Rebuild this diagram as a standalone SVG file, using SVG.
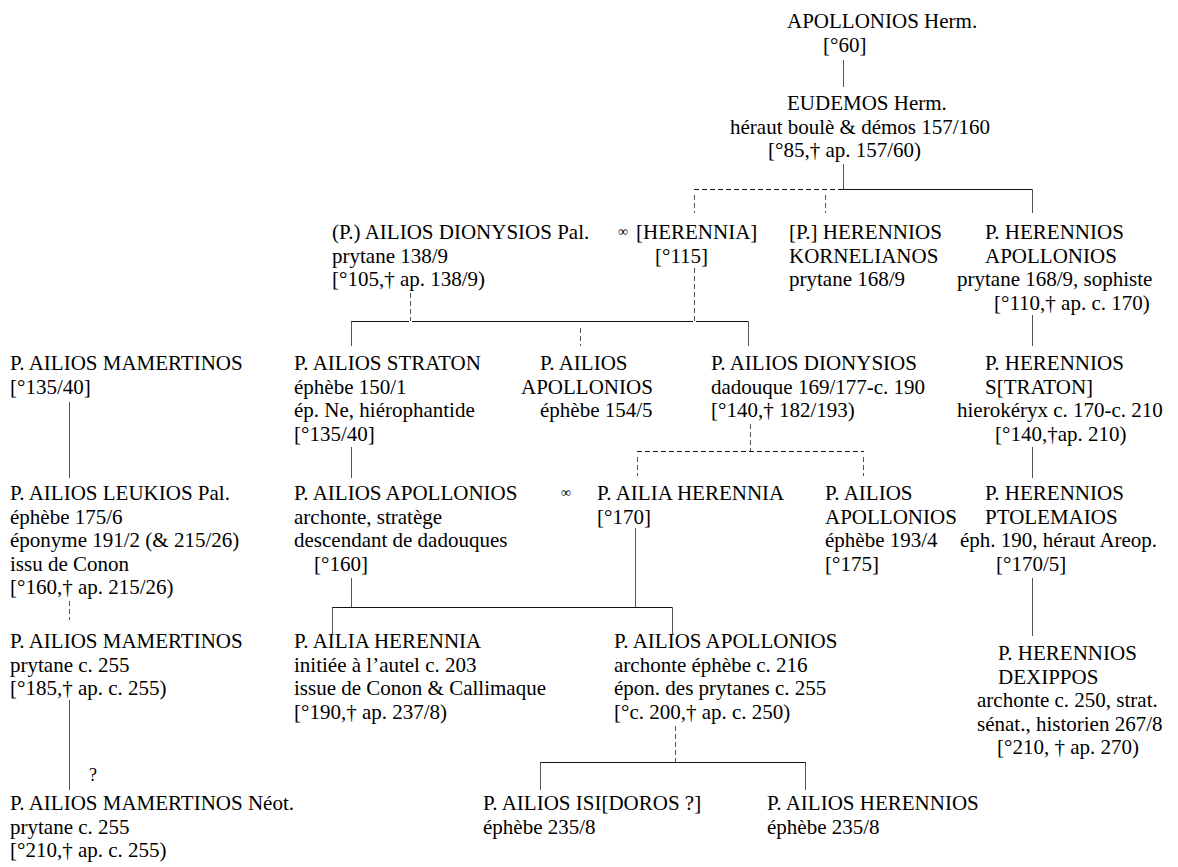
<svg xmlns="http://www.w3.org/2000/svg" width="1178" height="867" viewBox="0 0 1178 867">
<style>
text{font-family:"Liberation Serif","Times New Roman",serif;font-size:21px;fill:#000}
.inf{font-size:14px}
.q{font-size:18px}
line{stroke:#111;stroke-width:1;fill:none}
.v{stroke:#555}
.d{stroke-dasharray:5,3}
</style>
<rect width="1178" height="867" fill="#fff"/>
<g id="connectors">
<line class="v" x1="843.5" y1="60" x2="843.5" y2="87"/>
<line class="v" x1="843.5" y1="164" x2="843.5" y2="189.5"/>
<line class="d" x1="694" y1="189.5" x2="843" y2="189.5"/>
<line x1="843" y1="189.5" x2="1032.5" y2="189.5"/>
<line class="v d" x1="694.5" y1="195" x2="694.5" y2="213"/>
<line class="v d" x1="825.5" y1="195" x2="825.5" y2="213"/>
<line class="v" x1="1032.5" y1="189.5" x2="1032.5" y2="213"/>
<line class="v d" x1="410.5" y1="293" x2="410.5" y2="321"/>
<line class="v d" x1="694.5" y1="268" x2="694.5" y2="321"/>
<line x1="351" y1="321.5" x2="409" y2="321.5"/>
<line x1="412" y1="321.5" x2="693" y2="321.5"/>
<line x1="696" y1="321.5" x2="748.5" y2="321.5"/>
<line class="v" x1="351.5" y1="321.5" x2="351.5" y2="346"/>
<line class="v d" x1="580.5" y1="328" x2="580.5" y2="346"/>
<line class="v" x1="748.5" y1="321.5" x2="748.5" y2="346"/>
<line class="v" x1="1032.5" y1="315" x2="1032.5" y2="346"/>
<line class="v" x1="69.5" y1="402" x2="69.5" y2="478"/>
<line class="v" x1="351.5" y1="447" x2="351.5" y2="478"/>
<line class="v d" x1="750.5" y1="424" x2="750.5" y2="451"/>
<line class="d" x1="637" y1="451.5" x2="864" y2="451.5"/>
<line class="v d" x1="637.5" y1="457" x2="637.5" y2="476"/>
<line class="v d" x1="863.5" y1="457" x2="863.5" y2="476"/>
<line class="v" x1="1032.5" y1="447" x2="1032.5" y2="478"/>
<line class="v d" x1="69.5" y1="601" x2="69.5" y2="620"/>
<line class="v" x1="351.5" y1="578" x2="351.5" y2="607.5"/>
<line class="v" x1="635.5" y1="528" x2="635.5" y2="607.5"/>
<line x1="332" y1="607.5" x2="672.5" y2="607.5"/>
<line class="v" x1="332.5" y1="607.5" x2="332.5" y2="634"/>
<line class="v" x1="672.5" y1="607.5" x2="672.5" y2="634"/>
<line class="v" x1="1032.5" y1="578" x2="1032.5" y2="636"/>
<line class="v" x1="69.5" y1="700" x2="69.5" y2="790"/>
<line class="v d" x1="675.5" y1="726" x2="675.5" y2="762"/>
<line x1="540" y1="762.5" x2="806" y2="762.5"/>
<line class="v" x1="540.5" y1="762.5" x2="540.5" y2="790"/>
<line class="v" x1="805.5" y1="762.5" x2="805.5" y2="790"/>
<text class="q" x="89" y="781">?</text>
</g>
<g id="n-apollonios-herm">
<text x="787" y="28">APOLLONIOS Herm.</text>
<text x="823" y="52">[°60]</text>
</g>
<g id="n-eudemos">
<text x="787" y="110">EUDEMOS Herm.</text>
<text x="730" y="133.5">héraut boulè &amp; démos 157/160</text>
<text x="768" y="157">[°85,† ap. 157/60)</text>
</g>
<g id="n-ailios-dionysios-pal">
<text x="332" y="239">(P.) AILIOS DIONYSIOS Pal.</text>
<text x="332" y="262.5">prytane 138/9</text>
<text x="332" y="286">[°105,† ap. 138/9)</text>
</g>
<g id="n-herennia">
<text class="inf" x="618" y="236">∞</text>
<text x="636" y="239">[HERENNIA]</text>
<text x="655" y="262.5">[°115]</text>
</g>
<g id="n-herennios-kornelianos">
<text x="789" y="239">[P.] HERENNIOS</text>
<text x="789" y="262.5">KORNELIANOS</text>
<text x="789" y="286">prytane 168/9</text>
</g>
<g id="n-herennios-apollonios">
<text x="985" y="239">P. HERENNIOS</text>
<text x="985" y="262.5">APOLLONIOS</text>
<text x="957" y="286">prytane 168/9, sophiste</text>
<text x="994" y="309.5">[°110,† ap. c. 170)</text>
</g>
<g id="n-mamertinos-1">
<text x="10" y="370">P. AILIOS MAMERTINOS</text>
<text x="10" y="393.5">[°135/40]</text>
</g>
<g id="n-straton">
<text x="294" y="370">P. AILIOS STRATON</text>
<text x="294" y="393.5">éphèbe 150/1</text>
<text x="294" y="417">ép. Ne, hiérophantide</text>
<text x="294" y="440.5">[°135/40]</text>
</g>
<g id="n-ailios-apollonios-1">
<text x="540" y="370">P. AILIOS</text>
<text x="521" y="393.5">APOLLONIOS</text>
<text x="540" y="417">éphèbe 154/5</text>
</g>
<g id="n-ailios-dionysios">
<text x="711" y="370">P. AILIOS DIONYSIOS</text>
<text x="711" y="393.5">dadouque 169/177-c. 190</text>
<text x="711" y="417">[°140,† 182/193)</text>
</g>
<g id="n-herennios-straton">
<text x="985" y="370">P. HERENNIOS</text>
<text x="985" y="393.5">S[TRATON]</text>
<text x="957" y="417">hierokéryx c. 170-c. 210</text>
<text x="995" y="440.5">[°140,†ap. 210)</text>
</g>
<g id="n-leukios">
<text x="10" y="500">P. AILIOS LEUKIOS Pal.</text>
<text x="10" y="523.5">éphèbe 175/6</text>
<text x="10" y="547">éponyme 191/2 (&amp; 215/26)</text>
<text x="10" y="570.5">issu de Conon</text>
<text x="10" y="594">[°160,† ap. 215/26)</text>
</g>
<g id="n-ailios-apollonios-2">
<text x="294" y="500">P. AILIOS APOLLONIOS</text>
<text x="294" y="523.5">archonte, stratège</text>
<text x="294" y="547">descendant de dadouques</text>
<text x="314" y="570.5">[°160]</text>
</g>
<g id="n-ailia-herennia-1">
<text class="inf" x="561" y="497">∞</text>
<text x="597" y="500">P. AILIA HERENNIA</text>
<text x="597" y="523.5">[°170]</text>
</g>
<g id="n-ailios-apollonios-3">
<text x="825" y="500">P. AILIOS</text>
<text x="825" y="523.5">APOLLONIOS</text>
<text x="825" y="547">éphèbe 193/4</text>
<text x="825" y="570.5">[°175]</text>
</g>
<g id="n-ptolemaios">
<text x="985" y="500">P. HERENNIOS</text>
<text x="985" y="523.5">PTOLEMAIOS</text>
<text x="960" y="547">éph. 190, héraut Areop.</text>
<text x="996" y="570.5">[°170/5]</text>
</g>
<g id="n-mamertinos-2">
<text x="10" y="648">P. AILIOS MAMERTINOS</text>
<text x="10" y="671.5">prytane c. 255</text>
<text x="10" y="695">[°185,† ap. c. 255)</text>
</g>
<g id="n-ailia-herennia-2">
<text x="294" y="648">P. AILIA HERENNIA</text>
<text x="294" y="671.5">initiée à l’autel c. 203</text>
<text x="294" y="695">issue de Conon &amp; Callimaque</text>
<text x="294" y="718.5">[°190,† ap. 237/8)</text>
</g>
<g id="n-ailios-apollonios-4">
<text x="614" y="648">P. AILIOS APOLLONIOS</text>
<text x="614" y="671.5">archonte éphèbe c. 216</text>
<text x="614" y="695">épon. des prytanes c. 255</text>
<text x="614" y="718.5">[°c. 200,† ap. c. 250)</text>
</g>
<g id="n-dexippos">
<text x="998" y="660">P. HERENNIOS</text>
<text x="998" y="683.5">DEXIPPOS</text>
<text x="977" y="707">archonte c. 250, strat.</text>
<text x="977" y="730.5">sénat., historien 267/8</text>
<text x="997" y="754">[°210, † ap. 270)</text>
</g>
<g id="n-mamertinos-neot">
<text x="10" y="810">P. AILIOS MAMERTINOS Néot.</text>
<text x="10" y="833.5">prytane c. 255</text>
<text x="10" y="857">[°210,† ap. c. 255)</text>
</g>
<g id="n-isidoros">
<text x="483" y="810">P. AILIOS ISI[DOROS ?]</text>
<text x="483" y="833.5">éphèbe 235/8</text>
</g>
<g id="n-ailios-herennios">
<text x="767" y="810">P. AILIOS HERENNIOS</text>
<text x="767" y="833.5">éphèbe 235/8</text>
</g>
</svg>
